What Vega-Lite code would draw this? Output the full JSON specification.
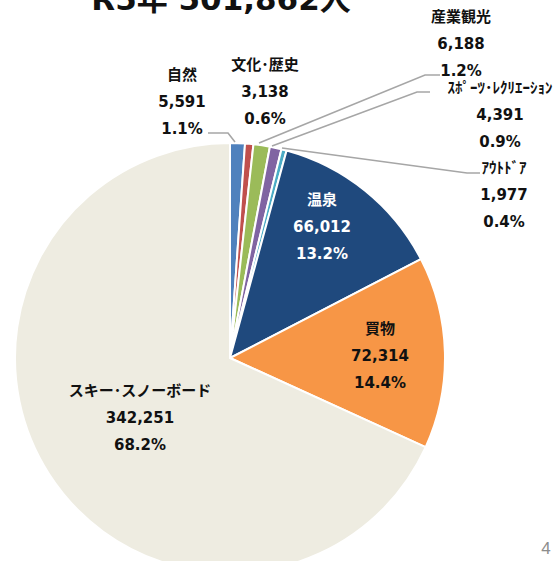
{
  "$schema": "https://vega.github.io/schema/vega-lite/v6.json",
  "width": 558,
  "height": 561,
  "padding": 0,
  "autosize": {"type": "none"},
  "background": "white",
  "config": {"view": {"stroke": null}},
  "datasets": {
    "slices": [
      {"cat": "自然", "value": 5591, "pct": 1.1, "idx": 1, "lx": -48, "ly": 283},
      {"cat": "文化･歴史", "value": 3138, "pct": 0.6, "idx": 2, "lx": 35, "ly": 293},
      {"cat": "産業観光", "value": 6188, "pct": 1.2, "idx": 3, "lx": 231, "ly": 341},
      {"cat": "ｽﾎﾟｰﾂ･ﾚｸﾘｴｰｼｮﾝ", "value": 4391, "pct": 0.9, "idx": 4, "lx": 270, "ly": 270},
      {"cat": "ｱｳﾄﾄﾞｱ", "value": 1977, "pct": 0.4, "idx": 5, "lx": 274, "ly": 190},
      {"cat": "温泉", "value": 66012, "pct": 13.2, "idx": 6, "lx": 92, "ly": 158},
      {"cat": "買物", "value": 72314, "pct": 14.4, "idx": 7, "lx": 150, "ly": 29},
      {"cat": "スキー･スノーボード", "value": 342251, "pct": 68.2, "idx": 8, "lx": -90, "ly": -33}
    ],
    "leaders": [
      {"cat": "自然", "step": 1, "x": -22, "y": 225},
      {"cat": "自然", "step": 2, "x": -2, "y": 225},
      {"cat": "自然", "step": 3, "x": 5, "y": 216},
      {"cat": "産業観光", "step": 1, "x": 29, "y": 215},
      {"cat": "産業観光", "step": 2, "x": 195, "y": 283},
      {"cat": "産業観光", "step": 3, "x": 210, "y": 283},
      {"cat": "ｽﾎﾟｰﾂ･ﾚｸﾘｴｰｼｮﾝ", "step": 1, "x": 42, "y": 212},
      {"cat": "ｽﾎﾟｰﾂ･ﾚｸﾘｴｰｼｮﾝ", "step": 2, "x": 187, "y": 266},
      {"cat": "ｽﾎﾟｰﾂ･ﾚｸﾘｴｰｼｮﾝ", "step": 3, "x": 200, "y": 266},
      {"cat": "ｱｳﾄﾄﾞｱ", "step": 1, "x": 52, "y": 210},
      {"cat": "ｱｳﾄﾄﾞｱ", "step": 2, "x": 237, "y": 185},
      {"cat": "ｱｳﾄﾄﾞｱ", "step": 3, "x": 250, "y": 185}
    ],
    "title": [{"text": "R5年 501,862人", "x": -9, "y": 348}],
    "page": [{"text": "4", "x": 316, "y": -191}]
  },
  "layer": [
    {
      "data": {"name": "slices"},
      "mark": {"type": "arc", "outerRadius": 215, "stroke": "white", "strokeWidth": 2},
      "encoding": {
        "theta": {"field": "value", "type": "quantitative", "stack": true},
        "order": {"field": "idx", "type": "quantitative"},
        "color": {
          "field": "cat", "type": "nominal", "legend": null,
          "scale": {
            "domain": ["自然", "文化･歴史", "産業観光", "ｽﾎﾟｰﾂ･ﾚｸﾘｴｰｼｮﾝ", "ｱｳﾄﾄﾞｱ", "温泉", "買物", "スキー･スノーボード"],
            "range": ["#4f81bd", "#c0504d", "#9bbb59", "#8064a2", "#4bacc6", "#1f497d", "#f79646", "#eeece1"]
          }
        },
        "x": {"datum": 0, "type": "quantitative", "scale": {"domain": [-230, 328], "nice": false, "zero": false}, "axis": null},
        "y": {"datum": 0, "type": "quantitative", "scale": {"domain": [-203, 358], "nice": false, "zero": false}, "axis": null}
      }
    },
    {
      "data": {"name": "leaders"},
      "mark": {"type": "line", "color": "#a6a6a6", "strokeWidth": 1.6},
      "encoding": {
        "x": {"field": "x", "type": "quantitative", "scale": {"domain": [-230, 328], "nice": false, "zero": false}, "axis": null},
        "y": {"field": "y", "type": "quantitative", "scale": {"domain": [-203, 358], "nice": false, "zero": false}, "axis": null},
        "detail": {"field": "cat"},
        "order": {"field": "step", "type": "quantitative"}
      }
    },
    {
      "data": {"name": "slices"},
      "transform": [
        {"calculate": "datum.cat + '\\n' + format(datum.value, ',') + '\\n' + format(datum.pct, '.1f') + '%'", "as": "label"}
      ],
      "mark": {"type": "text", "font": "DejaVu Sans, Noto Sans CJK JP", "fontWeight": "bold", "fontSize": 15, "lineBreak": "\n", "lineHeight": 27, "align": "center", "baseline": "middle"},
      "encoding": {
        "x": {"field": "lx", "type": "quantitative", "scale": {"domain": [-230, 328], "nice": false, "zero": false}, "axis": null},
        "y": {"field": "ly", "type": "quantitative", "scale": {"domain": [-203, 358], "nice": false, "zero": false}, "axis": null},
        "text": {"field": "label"},
        "color": {"condition": {"test": "datum.cat === '温泉'", "value": "white"}, "value": "#111111"}
      }
    },
    {
      "data": {"name": "title"},
      "mark": {"type": "text", "font": "DejaVu Sans, Noto Sans CJK JP", "fontWeight": "bold", "fontSize": 31, "align": "center", "baseline": "alphabetic", "color": "#111111"},
      "encoding": {
        "x": {"field": "x", "type": "quantitative", "scale": {"domain": [-230, 328], "nice": false, "zero": false}, "axis": null},
        "y": {"field": "y", "type": "quantitative", "scale": {"domain": [-203, 358], "nice": false, "zero": false}, "axis": null},
        "text": {"field": "text"}
      }
    },
    {
      "data": {"name": "page"},
      "mark": {"type": "text", "font": "Arial, Liberation Sans", "fontSize": 17, "align": "center", "baseline": "middle", "color": "#8c8c8c"},
      "encoding": {
        "x": {"field": "x", "type": "quantitative", "scale": {"domain": [-230, 328], "nice": false, "zero": false}, "axis": null},
        "y": {"field": "y", "type": "quantitative", "scale": {"domain": [-203, 358], "nice": false, "zero": false}, "axis": null},
        "text": {"field": "text"}
      }
    }
  ]
}
